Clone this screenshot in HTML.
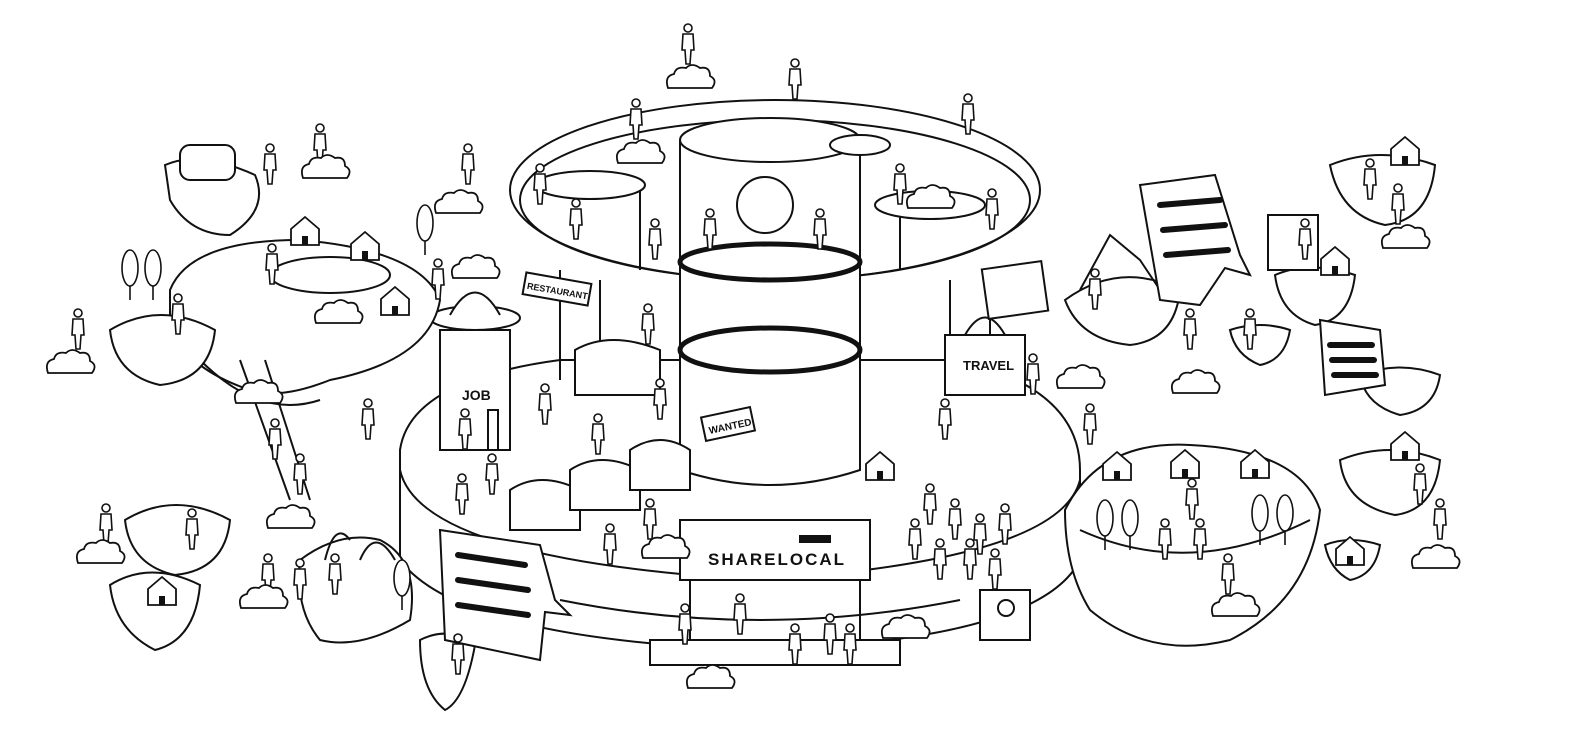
<!DOCTYPE html>
<html><head><meta charset="utf-8"><style>
html,body{margin:0;padding:0;background:#fff;}
svg{display:block}
text{font-family:"Liberation Sans",sans-serif;font-weight:bold;fill:#111}
</style></head><body>
<svg width="1569" height="750" viewBox="0 0 1569 750" xmlns="http://www.w3.org/2000/svg">
<defs>
<g id="p"><circle cx="0" cy="-22" r="4" fill="#fff" stroke="#111" stroke-width="1.6"/><path d="M-5,-16 L5,-16 L6,0 L3,0 L2,14 L-2,14 L-3,0 L-6,0 Z" fill="#fff" stroke="#111" stroke-width="1.6"/></g>
<g id="cl"><path d="M-22,8 Q-26,-4 -16,-6 Q-14,-14 -4,-12 Q2,-18 10,-12 Q20,-14 20,-4 Q28,0 22,8 Z" fill="#fff" stroke="#111" stroke-width="1.8"/></g>
<g id="h"><path d="M-14,0 L-14,-16 L0,-28 L14,-16 L14,0 Z" fill="#fff" stroke="#111" stroke-width="1.8"/><rect x="-3" y="-9" width="6" height="9" fill="#111"/></g>
<g id="t"><ellipse cx="0" cy="-22" rx="8" ry="18" fill="#fff" stroke="#111" stroke-width="1.6"/><line x1="0" y1="-4" x2="0" y2="10" stroke="#111" stroke-width="1.6"/></g>
</defs>
<g fill="none" stroke="#111" stroke-width="2">
<!-- base platform -->
<path d="M400,450 Q410,380 560,360 L960,360 Q1080,390 1080,470 L1080,560 Q1040,640 760,650 Q460,640 400,560 Z" fill="#fff"/>
<path d="M400,470 Q420,560 760,580 Q1060,560 1080,480"/>
<path d="M560,600 Q760,640 960,600"/>
<!-- big ring -->
<ellipse cx="775" cy="190" rx="265" ry="90"/>
<ellipse cx="775" cy="200" rx="255" ry="80"/>
<!-- pillars -->
<line x1="560" y1="270" x2="560" y2="380"/><line x1="600" y1="280" x2="600" y2="360"/>
<line x1="990" y1="270" x2="990" y2="390"/><line x1="950" y1="280" x2="950" y2="380"/>
<line x1="640" y1="190" x2="640" y2="270"/><line x1="900" y1="190" x2="900" y2="270"/>
<!-- central cylinder -->
<path d="M680,140 L680,470 Q770,500 860,470 L860,140" fill="#fff"/>
<ellipse cx="770" cy="140" rx="90" ry="22" fill="#fff"/>
<ellipse cx="770" cy="350" rx="90" ry="22" stroke-width="5"/>
<ellipse cx="770" cy="262" rx="90" ry="18" stroke-width="5"/>
<circle cx="765" cy="205" r="28"/>
<ellipse cx="590" cy="185" rx="55" ry="14" fill="#fff"/>
<ellipse cx="930" cy="205" rx="55" ry="14" fill="#fff"/>
<ellipse cx="860" cy="145" rx="30" ry="10" fill="#fff"/>
<!-- JOB tower -->
<rect x="440" y="330" width="70" height="120" fill="#fff"/>
<ellipse cx="475" cy="318" rx="45" ry="12" fill="#fff"/>
<path d="M450,315 Q475,270 500,315" fill="#fff"/>
<rect x="488" y="410" width="10" height="40" fill="#fff"/>
<!-- RESTAURANT sign -->
<rect x="524" y="278" width="66" height="22" fill="#fff" transform="rotate(10 557 289)"/>
<!-- tent booths -->
<path d="M575,395 L575,350 Q610,330 660,350 L660,395 Z" fill="#fff"/>
<path d="M510,530 L510,490 Q540,470 580,490 L580,530 Z" fill="#fff"/>
<path d="M570,510 L570,470 Q600,450 640,470 L640,510 Z" fill="#fff"/>
<path d="M630,490 L630,450 Q660,430 690,450 L690,490 Z" fill="#fff"/>
<!-- TRAVEL box -->
<rect x="945" y="335" width="80" height="60" fill="#fff"/>
<path d="M965,335 Q985,300 1005,335"/>
<!-- wanted -->
<rect x="703" y="412" width="50" height="24" fill="#fff" transform="rotate(-12 728 424)"/>
<!-- SHARELOCAL -->
<path d="M680,520 L870,520 L870,580 L680,580 Z" fill="#fff"/>
<path d="M690,580 L690,640 L860,640 L860,580"/>
<path d="M650,640 L900,640 L900,665 L650,665 Z" fill="#fff"/>
<rect x="800" y="536" width="30" height="6" fill="#111"/>
<!-- left big island -->
<path d="M170,290 Q190,240 300,240 Q420,250 440,300 Q430,360 330,380 Q280,400 250,390 Q190,370 170,330 Z" fill="#fff"/>
<path d="M200,360 Q260,420 320,400"/>
<ellipse cx="330" cy="275" rx="60" ry="18"/>
<!-- left small islands -->
<path d="M110,330 Q160,300 215,330 Q210,380 160,385 Q115,375 110,330 Z" fill="#fff"/>
<path d="M165,165 Q200,150 255,175 Q270,210 230,235 Q190,235 170,200 Z" fill="#fff"/>
<rect x="180" y="145" width="55" height="35" rx="10" fill="#fff"/>
<path d="M125,520 Q175,490 230,520 Q225,570 175,575 Q130,565 125,520 Z" fill="#fff"/>
<path d="M110,585 Q150,560 200,585 Q195,640 155,650 Q115,630 110,585 Z" fill="#fff"/>
<path d="M300,560 Q340,530 380,540 Q420,560 410,620 Q360,650 320,640 Q295,610 300,560 Z" fill="#fff"/>
<path d="M325,560 Q335,520 350,540 M360,560 Q375,525 395,560"/>
<path d="M420,640 Q450,625 475,645 Q465,700 445,710 Q420,690 420,640 Z" fill="#fff"/>
<path d="M240,360 L290,500 M265,360 L310,500"/>
<!-- right island -->
<path d="M1065,510 Q1100,440 1190,445 Q1300,450 1320,510 Q1310,600 1230,640 Q1150,660 1090,610 Q1065,570 1065,510 Z" fill="#fff"/>
<path d="M1080,530 Q1190,580 1310,520"/>
<path d="M1065,300 Q1120,260 1180,290 Q1175,340 1130,345 Q1080,340 1065,300 Z" fill="#fff"/>
<path d="M1080,290 L1110,235 L1140,260 L1160,290"/>
<path d="M1275,275 Q1310,260 1355,275 Q1350,320 1315,325 Q1280,315 1275,275 Z" fill="#fff"/>
<rect x="1268" y="215" width="50" height="55" fill="#fff"/>
<path d="M1330,165 Q1380,145 1435,165 Q1430,220 1385,225 Q1340,215 1330,165 Z" fill="#fff"/>
<path d="M1340,460 Q1390,440 1440,460 Q1435,510 1395,515 Q1345,505 1340,460 Z" fill="#fff"/>
<path d="M1360,375 Q1400,360 1440,375 Q1435,410 1400,415 Q1365,405 1360,375 Z" fill="#fff"/>
<path d="M1230,330 Q1260,320 1290,330 Q1285,360 1260,365 Q1235,355 1230,330 Z" fill="#fff"/>
<path d="M1325,545 Q1350,535 1380,545 Q1375,575 1350,580 Q1330,570 1325,545 Z" fill="#fff"/>
<!-- speech bubbles -->
<path d="M1140,185 L1215,175 L1240,255 L1250,275 L1225,268 L1200,305 L1160,300 Z" fill="#fff"/>
<path d="M1320,320 L1380,330 L1385,385 L1325,395 Z" fill="#fff"/>
<path d="M440,530 L540,545 L555,600 L570,615 L545,612 L540,660 L445,640 Z" fill="#fff"/>
<rect x="985" y="265" width="60" height="50" fill="#fff" transform="rotate(-8 1015 290)"/>
<rect x="980" y="590" width="50" height="50" fill="#fff"/>
<circle cx="1006" cy="608" r="8"/>
</g>
<g stroke="#111" stroke-width="6" stroke-linecap="round">
<line x1="1160" y1="205" x2="1220" y2="200"/><line x1="1163" y1="230" x2="1225" y2="225"/><line x1="1166" y1="255" x2="1228" y2="250"/>
<line x1="1330" y1="345" x2="1372" y2="345"/><line x1="1332" y1="360" x2="1374" y2="360"/><line x1="1334" y1="375" x2="1376" y2="375"/>
<line x1="458" y1="555" x2="525" y2="565"/><line x1="458" y1="580" x2="528" y2="590"/><line x1="458" y1="605" x2="528" y2="615"/>
</g>
<text x="708" y="565" font-size="17" letter-spacing="2">SHARELOCAL</text>
<text x="462" y="400" font-size="14">JOB</text>
<text x="963" y="370" font-size="13">TRAVEL</text>
<text x="527" y="294" font-size="9" transform="rotate(10 557 289)">RESTAURANT</text>
<text x="708" y="430" font-size="10" transform="rotate(-12 728 424)">WANTED</text>
<!-- figures -->
<g>
<use href="#p" x="688" y="50"/><use href="#p" x="795" y="85"/><use href="#p" x="968" y="120"/><use href="#p" x="636" y="125"/>
<use href="#p" x="540" y="190"/><use href="#p" x="576" y="225"/><use href="#p" x="655" y="245"/><use href="#p" x="710" y="235"/>
<use href="#p" x="820" y="235"/><use href="#p" x="992" y="215"/><use href="#p" x="900" y="190"/><use href="#p" x="648" y="330"/>
<use href="#p" x="545" y="410"/><use href="#p" x="598" y="440"/><use href="#p" x="465" y="435"/><use href="#p" x="492" y="480"/>
<use href="#p" x="462" y="500"/><use href="#p" x="660" y="405"/><use href="#p" x="610" y="550"/><use href="#p" x="650" y="525"/>
<use href="#p" x="945" y="425"/><use href="#p" x="1033" y="380"/><use href="#p" x="1090" y="430"/><use href="#p" x="930" y="510"/>
<use href="#p" x="955" y="525"/><use href="#p" x="980" y="540"/><use href="#p" x="1005" y="530"/><use href="#p" x="915" y="545"/>
<use href="#p" x="940" y="565"/><use href="#p" x="970" y="565"/><use href="#p" x="995" y="575"/><use href="#p" x="685" y="630"/>
<use href="#p" x="740" y="620"/><use href="#p" x="795" y="650"/><use href="#p" x="830" y="640"/><use href="#p" x="850" y="650"/>
<use href="#p" x="275" y="445"/><use href="#p" x="300" y="480"/><use href="#p" x="268" y="580"/><use href="#p" x="300" y="585"/>
<use href="#p" x="335" y="580"/><use href="#p" x="192" y="535"/><use href="#p" x="106" y="530"/><use href="#p" x="458" y="660"/>
<use href="#p" x="78" y="335"/><use href="#p" x="178" y="320"/><use href="#p" x="270" y="170"/><use href="#p" x="272" y="270"/>
<use href="#p" x="438" y="285"/><use href="#p" x="368" y="425"/><use href="#p" x="468" y="170"/><use href="#p" x="320" y="150"/>
<use href="#p" x="1095" y="295"/><use href="#p" x="1190" y="335"/><use href="#p" x="1250" y="335"/><use href="#p" x="1305" y="245"/>
<use href="#p" x="1370" y="185"/><use href="#p" x="1398" y="210"/><use href="#p" x="1420" y="490"/><use href="#p" x="1440" y="525"/>
<use href="#p" x="1165" y="545"/><use href="#p" x="1200" y="545"/><use href="#p" x="1192" y="505"/><use href="#p" x="1228" y="580"/>
</g>
<g>
<use href="#cl" x="690" y="80"/><use href="#cl" x="640" y="155"/><use href="#cl" x="325" y="170"/><use href="#cl" x="458" y="205"/>
<use href="#cl" x="70" y="365"/><use href="#cl" x="258" y="395"/><use href="#cl" x="290" y="520"/><use href="#cl" x="263" y="600"/>
<use href="#cl" x="475" y="270"/><use href="#cl" x="338" y="315"/><use href="#cl" x="665" y="550"/><use href="#cl" x="905" y="630"/>
<use href="#cl" x="710" y="680"/><use href="#cl" x="1195" y="385"/><use href="#cl" x="1405" y="240"/><use href="#cl" x="1235" y="608"/>
<use href="#cl" x="1435" y="560"/><use href="#cl" x="100" y="555"/><use href="#cl" x="930" y="200"/><use href="#cl" x="1080" y="380"/>
</g>
<g>
<use href="#h" x="305" y="245"/><use href="#h" x="365" y="260"/><use href="#h" x="395" y="315"/><use href="#h" x="1117" y="480"/>
<use href="#h" x="1185" y="478"/><use href="#h" x="1255" y="478"/><use href="#h" x="1405" y="165"/><use href="#h" x="1335" y="275"/>
<use href="#h" x="1405" y="460"/><use href="#h" x="162" y="605"/><use href="#h" x="1350" y="565"/><use href="#h" x="880" y="480"/>
</g>
<g>
<use href="#t" x="130" y="290"/><use href="#t" x="153" y="290"/><use href="#t" x="425" y="245"/><use href="#t" x="1105" y="540"/>
<use href="#t" x="1130" y="540"/><use href="#t" x="1260" y="535"/><use href="#t" x="1285" y="535"/><use href="#t" x="402" y="600"/>
</g>
</svg>
</body></html>
